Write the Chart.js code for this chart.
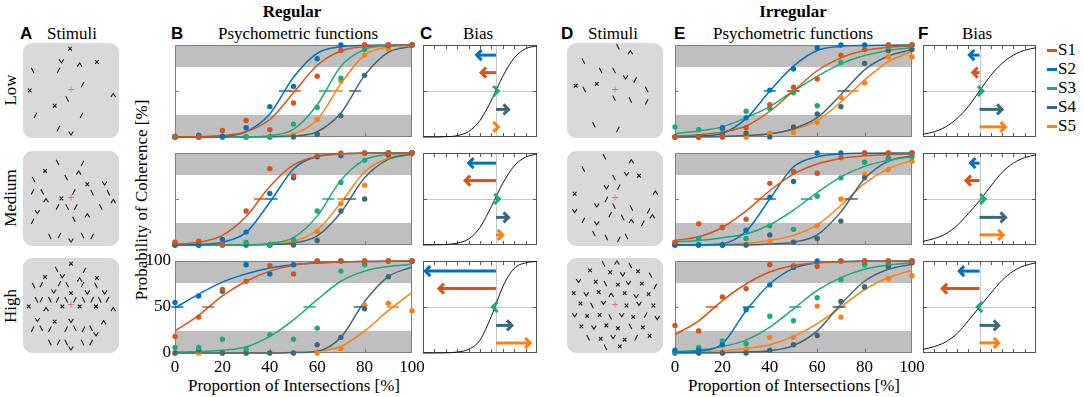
<!DOCTYPE html>
<html>
<head>
<meta charset="utf-8">
<script src="https://cdn.jsdelivr.net/npm/chart.js@4.4.1/dist/chart.umd.min.js"></script>
<style>
  body { margin: 0; background: #fff; width: 1084px; height: 397px; position: relative; overflow: hidden; }
  canvas { position: absolute; }
  .t { position: absolute; white-space: nowrap; font-family: "Liberation Serif", serif; font-size: 17px; line-height: 17px; color: #000; }
  .c { transform: translateX(-50%); }
  .b { font-weight: bold; }
  .p { font-family: "Liberation Sans", Arial, sans-serif; font-weight: bold; font-size: 17px; line-height: 17px; }
  .r { transform: translate(-50%, -50%) rotate(-90deg); }
  .leg { position: absolute; width: 10px; height: 3px; }
</style>
</head>
<body>
<div class="t b c" style="left:292px;top:3px">Regular</div>
<div class="t b c" style="left:793px;top:3px">Irregular</div>

<div class="t p" style="left:20px;top:25px">A</div>
<div class="t c" style="left:72px;top:25px">Stimuli</div>
<div class="t p" style="left:171px;top:25px">B</div>
<div class="t c" style="left:298px;top:25px">Psychometric functions</div>
<div class="t p" style="left:420px;top:25px">C</div>
<div class="t c" style="left:478px;top:25px">Bias</div>
<div class="t p" style="left:561px;top:25px">D</div>
<div class="t c" style="left:613px;top:25px">Stimuli</div>
<div class="t p" style="left:674px;top:25px">E</div>
<div class="t c" style="left:793px;top:25px">Psychometric functions</div>
<div class="t p" style="left:918px;top:25px">F</div>
<div class="t c" style="left:977px;top:25px">Bias</div>

<div class="t r" style="left:10px;top:90px">Low</div>
<div class="t r" style="left:10px;top:198px">Medium</div>
<div class="t r" style="left:10px;top:306px">High</div>
<div class="t r" style="left:141px;top:200px">Probability of Coherence [%]</div>
<div class="t c" style="left:294px;top:377px">Proportion of Intersections [%]</div>
<div class="t c" style="left:794px;top:377px">Proportion of Intersections [%]</div>

<div id="legend"></div>

<script>
// ---- data ----
const subjects = ["S1", "S2", "S3", "S4", "S5"];
const colors = ["#d95319", "#0072bd", "#1aaa7b", "#3c687b", "#ff8010"];
const pct = [0, 10, 20, 30, 40, 50, 60, 70, 80, 90, 100];
const xTickLabels = [0, 20, 40, 60, 80, 100];
const yTickLabels = [0, 50, 100];
const confidence = [[0, 24], [76, 100]];

// Regular, low
const regLowDots = [
  [0, 0, 7, 18, 8, 37, 66, 94, 100, 100, 100],
  [0, 2, 1, 10, 33, 55, 85, 100, 100, 100, 100],
  [1, 0, 0, 0, 0, 14, 32, 64, 95, 99, 100],
  [0, 0, 0, 0, 0, 0, 3, 23, 67, 100, 100],
  [0, 0, 0, 0, 0, 2, 19, 61, 89, 96, 100]
];
const regLowFit = [
  [0.1, 0.4, 1.5, 5.7, 19, 48, 78, 93.5, 98.2, 99.5, 99.9],
  [0, 0.1, 0.6, 5.7, 25, 65, 91, 98.2, 99.7, 100, 100],
  [0, 0, 0.1, 0.2, 1.5, 8.3, 35, 77, 95.3, 99.2, 99.9],
  [0, 0, 0, 0, 0.2, 1, 5.7, 26, 67, 92, 98.5],
  [0, 0, 0, 0.1, 0.6, 3.6, 18.7, 58, 89, 98, 99.7]
];
const regLowPse = [50.6, 46.4, 63.3, 76, 68.2];

// Regular, medium
const regMedDots = [
  [3, 4, 1, 37, 83, 75, 97, 100, 100, 100, 100],
  [0, 0, 6, 14, 56, 73, 96, 97, 100, 100, 100],
  [3, 0, 0, 3, 0, 6, 37, 68, 92, 100, 100],
  [0, 0, 0, 0, 0, 0, 5, 37, 50, 98, 100],
  [0, 0, 0, 0, 0, 1, 15, 45, 65, 97, 100]
];
const regMedFit = [
  [0.8, 2.9, 10.4, 31, 63.5, 87, 96.3, 99, 99.7, 99.9, 100],
  [0.1, 0.5, 2.9, 13.7, 46.5, 82.7, 96.3, 99.3, 99.9, 100, 100],
  [0, 0, 0.1, 0.3, 1.7, 8.1, 31.4, 70.5, 92.6, 98.5, 99.7],
  [0, 0, 0, 0, 0.5, 2.2, 10, 35.4, 73, 93, 98.5],
  [0, 0, 0, 0.2, 0.9, 4.1, 16, 46, 79.4, 94.5, 98.7]
];
const regMedPse = [35.9, 40.8, 64.7, 73.8, 71];

// Regular, high
const regHighDots = [
  [18, 39, 69, 78, 95, 86, 100, 100, 100, 100, 100],
  [55, 62, 67, 96, 86, 96, 100, 100, 100, 100, 100],
  [6, 6, 15, 4, 20, 15, 27, 89, 96, 100, 100],
  [0, 3, 0, 0, 0, 0, 9, 17, 48, 83, 100],
  [0, 0, 0, 0, 0, 0, 0, 5, 52, 54, 46]
];
const regHighFit = [
  [24, 41, 62, 78, 89, 95.5, 98, 99, 99.5, 99.8, 100],
  [49, 64, 77, 86, 92.5, 96, 98, 99, 99.5, 99.8, 100],
  [1, 1.5, 3, 6.5, 18, 36, 58, 78, 89, 94, 96.5],
  [0, 0, 0, 0, 0, 0.5, 2, 17, 56, 83, 93.5],
  [0, 0, 0, 0, 0, 0.5, 2, 7, 24, 46, 66]
];
const regHighPse = [14, 1, 56.7, 77.9, 92];

// Irregular, low
const irrLowDots = [
  [0, 0, 0, 10, 35, 54, 63, 89, 95, 100, 100],
  [0, 0, 10, 21, 51, 74, 97, 100, 100, 100, 100],
  [11, 8, 9, 28, 31, 48, 34, 81, 95, 98, 100],
  [0, 0, 2, 4, 0, 11, 25, 33, 80, 94, 95],
  [0, 0, 0, 0, 4, 5, 16, 43, 59, 87, 87]
];
const irrLowFit = [
  [1, 2.5, 5.5, 12, 28, 50, 72, 86, 94, 97.5, 99],
  [0.3, 1, 4, 20, 50, 77, 94, 98.5, 99.5, 99.8, 100],
  [3.6, 6.5, 11, 21, 33, 50, 66, 79.5, 88.5, 94, 97],
  [0, 0.2, 0.6, 1.5, 3.5, 9, 21, 46, 73, 88, 95],
  [0, 0.2, 0.6, 1.5, 3.5, 8, 18, 38, 62, 82, 93]
];
const irrLowPse = [50, 40, 50, 71, 75];

// Irregular, medium
const irrMedDots = [
  [3, 23, 19, 28, 67, 80, 78, 95, 100, 100, 100],
  [0, 0, 0, 16, 52, 69, 100, 100, 100, 100, 100],
  [3, 7, 19, 7, 21, 17, 53, 73, 90, 93, 96],
  [0, 0, 0, 0, 11, 3, 7, 26, 73, 94, 100],
  [0, 0, 0, 0, 4, 17, 21, 50, 77, 82, 91]
];
const irrMedFit = [
  [5, 9, 19, 37, 59, 77, 88, 94, 97, 98.3, 99],
  [0, 0.3, 1.5, 15, 50, 85, 96, 99, 99.7, 100, 100],
  [3.5, 5, 8, 12, 22, 38, 57, 74, 85.5, 92, 96],
  [0, 0, 0, 0, 1, 3, 11, 36, 72, 91, 97],
  [0, 0.3, 0.8, 2, 5, 10.5, 22, 43, 67, 83, 92]
];
const irrMedPse = [36, 40, 55.6, 74.6, 72.5];

// Irregular, high
const irrHighDots = [
  [30, 24, 61, 70, 96, 95, 94, 100, 100, 100, 100],
  [3, 3, 9, 47, 74, 93, 100, 100, 100, 100, 100],
  [1, 6, 13, 10, 40, 35, 60, 80, 96, 98, 100],
  [0, 0, 0, 0, 3, 9, 19, 56, 72, 94, 98],
  [0, 0, 0, 4, 17, 17, 51, 39, 71, 81, 84]
];
const irrHighFit = [
  [20, 35, 57, 75, 88, 95, 98, 99.2, 99.6, 99.8, 100],
  [0.5, 2, 10, 46, 75, 92, 98, 99.5, 100, 100, 100],
  [1.5, 3, 7, 14, 28, 48, 68, 82, 91, 95.5, 98],
  [0, 0, 0.3, 1, 2.5, 8, 24, 53, 78, 91, 96.5],
  [1, 1.5, 2.5, 5, 9, 18, 32, 50, 69, 82, 90]
];
const irrHighPse = [15.5, 31, 50.7, 69, 69.7];

// Bias panels: population trend, reference line, arrow ends (S1..S5), arrow rows
const biasLevels = [70, 89, 50, 30, 11];
const biasTicks = [10, 20, 30, 40, 50, 60, 70, 80, 90];
const regLowTrend = [0, 0, 0.3, 1.5, 6, 18, 40, 66, 86, 96, 99];
const regMedTrend = [0, 0.2, 0.6, 2, 6.5, 19, 42, 67, 86, 95.5, 99];
const regHighTrend = [0, 0, 0.2, 1, 4, 14, 40, 72, 92, 98, 99.5];
const irrLowTrend = [3, 5.7, 11, 20, 33, 50, 67, 80, 89, 94.3, 97];
const irrMedTrend = [4, 7, 12, 21, 34, 48, 64, 79, 89, 95, 98];
const irrHighTrend = [4, 7, 12, 21, 35, 50, 65, 79, 89, 95, 98];
const regRef = 64;
const irrRef = 50;
const regLowBias = [51, 47, 66, 75, 66];
const regMedBias = [37, 40, 67, 75, 70];
const regHighBias = [14, 2, 61, 78, 94];
const irrLowBias = [44, 41, 53, 70, 73];
const irrMedBias = [38, 42, 55, 73, 71];
const irrHighBias = [17, 32, 48, 67, 67];

// Stimuli: [x, y from top, glyph]  (b = backslash)
const fixation = [50, 49];
const stimRegLow = [[49,6,"x"],[40,19,"v"],[59,23,"^"],[77,20,"x"],[10,29,"b"],[37,29,"/"],[62,44,"/"],[7,50,"x"],
  [94,55,"^"],[46,59,"b"],[33,66,"x"],[13,76,"/"],[61,76,"/"],[37,90,"/"],[50,95,"v"]];
const stimRegMed = [[36,12,"b"],[62,13,"/"],[23,21,"x"],[58,23,"^"],[11,30,"b"],[45,28,"b"],[67,35,"x"],[85,34,"v"],
  [10,43,"/"],[20,43,"b"],[40,50,"x"],[53,43,"/"],[72,44,"b"],[89,44,"b"],[24,52,"^"],[36,59,"/"],[46,59,"b"],
  [55,59,"/"],[81,59,"b"],[94,53,"^"],[15,64,"v"],[10,74,"/"],[53,72,"b"],[67,68,"^"],[28,90,"b"],[38,89,"/"],
  [50,94,"v"],[62,89,"b"],[72,90,"/"]];
const stimRegHigh = [[50,6,"x"],[35,12,"b"],[64,13,"/"],[23,20,"x"],[41,19,"v"],[59,23,"^"],[77,21,"x"],[11,29,"b"],
  [19,28,"/"],[32,35,"v"],[38,27,"/"],[46,28,"b"],[50,37,"x"],[62,28,"/"],[67,36,"v"],[76,29,"b"],[85,36,"v"],
  [6,51,"x"],[14,44,"b"],[19,44,"/"],[28,44,"b"],[24,54,"^"],[36,44,"/"],[41,51,"x"],[45,44,"b"],[54,44,"/"],
  [59,51,"x"],[63,44,"b"],[72,44,"/"],[76,51,"x"],[80,44,"b"],[88,44,"/"],[94,54,"^"],[15,65,"v"],[33,67,"x"],
  [10,75,"/"],[19,74,"b"],[28,75,"/"],[50,66,"v"],[45,75,"/"],[54,74,"b"],[63,75,"/"],[71,74,"b"],[76,80,"v"],
  [84,68,"^"],[28,89,"b"],[37,89,"/"],[45,89,"b"],[50,95,"v"],[62,89,"b"],[71,89,"/"]];
const stimIrrLow = [[53,4,"b"],[66,10,"^"],[17,19,"b"],[35,29,"b"],[49,29,"b"],[61,36,"v"],[71,39,"/"],[9,45,"x"],
  [18,49,"b"],[31,43,"x"],[83,49,"b"],[49,58,"b"],[66,60,"b"],[83,62,"/"],[28,86,"b"],[53,91,"/"]];
const stimIrrMed = [[39,6,"b"],[67,11,"^"],[17,19,"b"],[49,28,"b"],[62,24,"v"],[75,26,"x"],[41,38,"v"],[54,38,"/"],
  [8,45,"x"],[92,44,"^"],[41,51,"/"],[31,57,"v"],[49,58,"b"],[67,60,"b"],[85,63,"/"],[8,63,"v"],[45,67,"/"],
  [58,70,"b"],[67,74,"^"],[79,76,"/"],[89,69,"^"],[17,73,"/"],[31,76,"v"],[28,87,"b"],[41,91,"b"],[54,93,"/"],
  [62,90,"b"]];
const stimIrrHigh = [[38,6,"b"],[52,5,"^"],[66,8,"b"],[24,13,"x"],[45,15,"x"],[58,17,"v"],[74,14,"x"],[87,18,"b"],
  [12,24,"v"],[30,25,"x"],[40,27,"b"],[53,28,"x"],[64,26,"v"],[78,27,"x"],[92,30,"/"],[7,37,"x"],[20,38,"v"],
  [33,36,"x"],[46,39,"^"],[60,37,"x"],[72,40,"v"],[85,38,"x"],[14,48,"x"],[26,50,"b"],[38,47,"v"],[62,50,"x"],
  [75,48,"v"],[90,50,"x"],[8,60,"v"],[21,61,"x"],[34,60,"x"],[45,62,"b"],[57,60,"v"],[69,62,"x"],[82,60,"/"],
  [94,63,"v"],[15,72,"x"],[28,73,"v"],[41,71,"x"],[53,74,"x"],[66,72,"b"],[79,73,"x"],[22,84,"b"],[35,85,"x"],
  [48,83,"v"],[60,86,"x"],[72,84,"/"],[86,82,"x"],[40,94,"b"],[55,93,"x"]];

// ---- helpers ----
Chart.defaults.animation = false;
Chart.defaults.devicePixelRatio = 1;

function addCanvas(left, top, w, h, pad) {
  const c = document.createElement("canvas");
  const W = w + pad.left + pad.right, H = h + pad.top + pad.bottom;
  c.width = W; c.height = H;
  c.style.left = (left - pad.left) + "px";
  c.style.top = (top - pad.top) + "px";
  c.style.width = W + "px"; c.style.height = H + "px";
  document.body.appendChild(c);
  return c;
}

function seg(ctx, x1, y1, x2, y2) {
  ctx.beginPath(); ctx.moveTo(x1, y1); ctx.lineTo(x2, y2); ctx.stroke();
}

// bands, guide lines, frame, inner ticks and tick labels
const framePlugin = {
  id: "frame",
  beforeDatasetsDraw(chart, args, o) {
    const { ctx, chartArea: a, scales: { x, y } } = chart;
    ctx.save();
    ctx.fillStyle = "#bfbfbf";
    (o.bands || []).forEach(([lo, hi]) => {
      const t = y.getPixelForValue(hi), b = y.getPixelForValue(lo);
      ctx.fillRect(a.left, t, a.right - a.left, b - t);
    });
    ctx.lineWidth = 1;
    ctx.strokeStyle = "#c8c8c8";
    (o.vGuides || []).forEach(v => {
      const px = Math.round(x.getPixelForValue(v)) + 0.5;
      seg(ctx, px, a.top, px, a.bottom);
    });
    (o.hGuides || []).forEach(v => {
      const py = Math.round(y.getPixelForValue(v)) + 0.5;
      seg(ctx, a.left, py, a.right, py);
    });
    ctx.strokeStyle = o.color;
    (o.xTicks || []).forEach(v => {
      const px = Math.round(x.getPixelForValue(v)) + 0.5;
      seg(ctx, px, a.bottom, px, a.bottom - 4);
      if (o.tickTop) seg(ctx, px, a.top, px, a.top + 4);
    });
    (o.yTicks || []).forEach(v => {
      const py = Math.round(y.getPixelForValue(v)) + 0.5;
      seg(ctx, a.left, py, a.left + 4, py);
      if (o.tickRight) seg(ctx, a.right, py, a.right - 4, py);
    });
    ctx.strokeRect(Math.round(a.left) + 0.5, Math.round(a.top) + 0.5,
      Math.round(a.right - a.left) - 1, Math.round(a.bottom - a.top) - 1);
    ctx.fillStyle = "#000";
    ctx.font = '17px "Liberation Serif", serif';
    if (o.xLabels) {
      ctx.textAlign = "center"; ctx.textBaseline = "middle";
      o.xLabels.forEach(v => ctx.fillText(String(v), x.getPixelForValue(v), a.bottom + 15));
    }
    if (o.yLabels) {
      ctx.textAlign = "right"; ctx.textBaseline = "middle";
      o.yLabels.forEach(v => ctx.fillText(String(v), a.left - 4, y.getPixelForValue(v)));
    }
    ctx.restore();
  }
};

function psychPanel(left, top, dots, fit, pse, bottomRow, showY) {
  const pad = { left: 40, right: 20, top: 8, bottom: 30 };
  const canvas = addCanvas(left, top, 237, 92, pad);
  const datasets = [];
  subjects.forEach((name, s) => {
    datasets.push({
      label: name + " fit", data: pct.map((p, i) => ({ x: p, y: fit[s][i] })),
      showLine: true, borderColor: colors[s], borderWidth: 1.5, pointRadius: 0,
      cubicInterpolationMode: "monotone", clip: false, order: 3
    });
    datasets.push({
      label: name, data: pct.map((p, i) => ({ x: p, y: dots[s][i] })),
      showLine: false, pointRadius: 2.7, pointBackgroundColor: colors[s],
      pointBorderWidth: 0, clip: false, order: 2
    });
    datasets.push({
      label: name + " threshold", data: [{ x: pse[s], y: 50 }],
      showLine: false, pointStyle: "line", pointRadius: 6,
      pointBorderColor: colors[s], pointBorderWidth: 1.5, clip: false, order: 1
    });
  });
  new Chart(canvas, {
    type: "scatter",
    data: { datasets },
    options: {
      responsive: false,
      layout: { padding: pad },
      events: [],
      plugins: {
        legend: { display: false }, tooltip: { enabled: false },
        frame: {
          bands: confidence, color: "#808080",
          xTicks: [20, 40, 60, 80], yTicks: [50],
          xLabels: bottomRow ? xTickLabels : null,
          yLabels: showY ? yTickLabels : null
        }
      },
      scales: {
        x: { type: "linear", min: 0, max: 100, display: false },
        y: { type: "linear", min: 0, max: 100, display: false }
      }
    },
    plugins: [framePlugin]
  });
}

const arrowPlugin = {
  id: "arrows",
  afterDatasetsDraw(chart, args, o) {
    const { ctx, scales: { x, y } } = chart;
    const x0 = x.getPixelForValue(o.ref);
    ctx.save();
    ctx.lineWidth = 3;
    ctx.lineJoin = "miter";
    o.ends.forEach((e, s) => {
      const x1 = x.getPixelForValue(e), py = y.getPixelForValue(biasLevels[s]);
      const dir = Math.sign(x1 - x0) || 1;
      ctx.strokeStyle = colors[s];
      if (Math.abs(x1 - x0) > 3) seg(ctx, x0, py, x1 - dir * 2, py);
      ctx.beginPath();
      ctx.moveTo(x1 - dir * 5, py - 5);
      ctx.lineTo(x1, py);
      ctx.lineTo(x1 - dir * 5, py + 5);
      ctx.stroke();
    });
    ctx.restore();
  }
};

function biasPanel(left, top, w, trend, ref, ends) {
  const pad = { left: 6, right: 6, top: 6, bottom: 6 };
  const canvas = addCanvas(left, top, w, 92, pad);
  new Chart(canvas, {
    type: "scatter",
    data: {
      datasets: [{
        label: "population trend", data: pct.map((p, i) => ({ x: p, y: trend[i] })),
        showLine: true, borderColor: "#111", borderWidth: 1, pointRadius: 0,
        cubicInterpolationMode: "monotone", clip: false
      }]
    },
    options: {
      responsive: false,
      layout: { padding: pad },
      events: [],
      plugins: {
        legend: { display: false }, tooltip: { enabled: false },
        frame: {
          color: "#555", vGuides: [ref], hGuides: [50],
          xTicks: biasTicks, tickTop: true, yTicks: [50], tickRight: true
        },
        arrows: { ref, ends }
      },
      scales: {
        x: { type: "linear", min: 0, max: 100, display: false },
        y: { type: "linear", min: 0, max: 100, display: false }
      }
    },
    plugins: [framePlugin, arrowPlugin]
  });
}

function drawGlyph(ctx, g, x, y) {
  const s = 2.7;
  ctx.beginPath();
  if (g === "/") { ctx.moveTo(x - 1.4, y + s); ctx.lineTo(x + 1.4, y - s); }
  else if (g === "b") { ctx.moveTo(x - 1.4, y - s); ctx.lineTo(x + 1.4, y + s); }
  else if (g === "v") { ctx.moveTo(x - 2.4, y - 1.8); ctx.lineTo(x, y + 1.8); ctx.lineTo(x + 2.4, y - 1.8); }
  else if (g === "^") { ctx.moveTo(x - 2.4, y + 1.8); ctx.lineTo(x, y - 1.8); ctx.lineTo(x + 2.4, y + 1.8); }
  else if (g === "x") { ctx.moveTo(x - 1.8, y - 1.8); ctx.lineTo(x + 1.8, y + 1.8); ctx.moveTo(x + 1.8, y - 1.8); ctx.lineTo(x - 1.8, y + 1.8); }
  ctx.stroke();
}

const stimPlugin = {
  id: "stim",
  beforeDatasetsDraw(chart) {
    const { ctx, chartArea: a } = chart;
    const r = 9, l = a.left, t = a.top, R = a.right, B = a.bottom;
    ctx.save();
    ctx.fillStyle = "#d9d9d9";
    ctx.beginPath();
    ctx.moveTo(l + r, t);
    ctx.arcTo(R, t, R, B, r); ctx.arcTo(R, B, l, B, r);
    ctx.arcTo(l, B, l, t, r); ctx.arcTo(l, t, R, t, r);
    ctx.closePath(); ctx.fill();
    ctx.restore();
  },
  afterDatasetsDraw(chart) {
    const { ctx, scales: { x, y } } = chart;
    ctx.save();
    ctx.strokeStyle = "#222"; ctx.lineWidth = 1.1;
    chart.data.datasets[0].data.forEach(p => drawGlyph(ctx, p.g, x.getPixelForValue(p.x), y.getPixelForValue(p.y)));
    const fx = x.getPixelForValue(fixation[0]), fy = y.getPixelForValue(fixation[1]);
    ctx.strokeStyle = "#e57c84"; ctx.lineWidth = 1;
    seg(ctx, fx - 3, fy, fx + 3, fy);
    seg(ctx, fx, fy - 3, fx, fy + 3);
    ctx.restore();
  }
};

function stimPanel(left, top, glyphs) {
  const pad = { left: 0, right: 0, top: 0, bottom: 0 };
  const canvas = addCanvas(left, top, 96, 95, pad);
  new Chart(canvas, {
    type: "scatter",
    data: { datasets: [{ data: glyphs.map(([gx, gy, g]) => ({ x: gx, y: gy, g })), pointRadius: 0 }] },
    options: {
      responsive: false,
      layout: { padding: pad },
      events: [],
      plugins: { legend: { display: false }, tooltip: { enabled: false } },
      scales: {
        x: { type: "linear", min: 0, max: 100, display: false },
        y: { type: "linear", min: 0, max: 100, reverse: true, display: false }
      }
    },
    plugins: [stimPlugin]
  });
}

// ---- panels ----
stimPanel(23, 43, stimRegLow);
stimPanel(23, 151, stimRegMed);
stimPanel(23, 258, stimRegHigh);
stimPanel(567, 43, stimIrrLow);
stimPanel(567, 151, stimIrrMed);
stimPanel(567, 258, stimIrrHigh);

psychPanel(175, 45, regLowDots, regLowFit, regLowPse, false, false);
psychPanel(175, 153, regMedDots, regMedFit, regMedPse, false, false);
psychPanel(175, 261, regHighDots, regHighFit, regHighPse, true, true);
psychPanel(675, 45, irrLowDots, irrLowFit, irrLowPse, false, false);
psychPanel(675, 153, irrMedDots, irrMedFit, irrMedPse, false, false);
psychPanel(675, 261, irrHighDots, irrHighFit, irrHighPse, true, false);

biasPanel(423, 45, 114, regLowTrend, regRef, regLowBias);
biasPanel(423, 153, 114, regMedTrend, regRef, regMedBias);
biasPanel(423, 261, 114, regHighTrend, regRef, regHighBias);
biasPanel(923, 45, 113, irrLowTrend, irrRef, irrLowBias);
biasPanel(923, 153, 113, irrMedTrend, irrRef, irrMedBias);
biasPanel(923, 261, 113, irrHighTrend, irrRef, irrHighBias);

// legend
const legend = document.getElementById("legend");
subjects.forEach((name, s) => {
  const yc = 50 + s * 19;
  const line = document.createElement("div");
  line.className = "leg";
  line.style.cssText = `left:1047px;top:${yc - 1}px;background:${colors[s]}`;
  legend.appendChild(line);
  const txt = document.createElement("div");
  txt.className = "t";
  txt.style.cssText = `left:1058px;top:${yc - 9}px`;
  txt.textContent = name;
  legend.appendChild(txt);
});
</script>
</body>
</html>
